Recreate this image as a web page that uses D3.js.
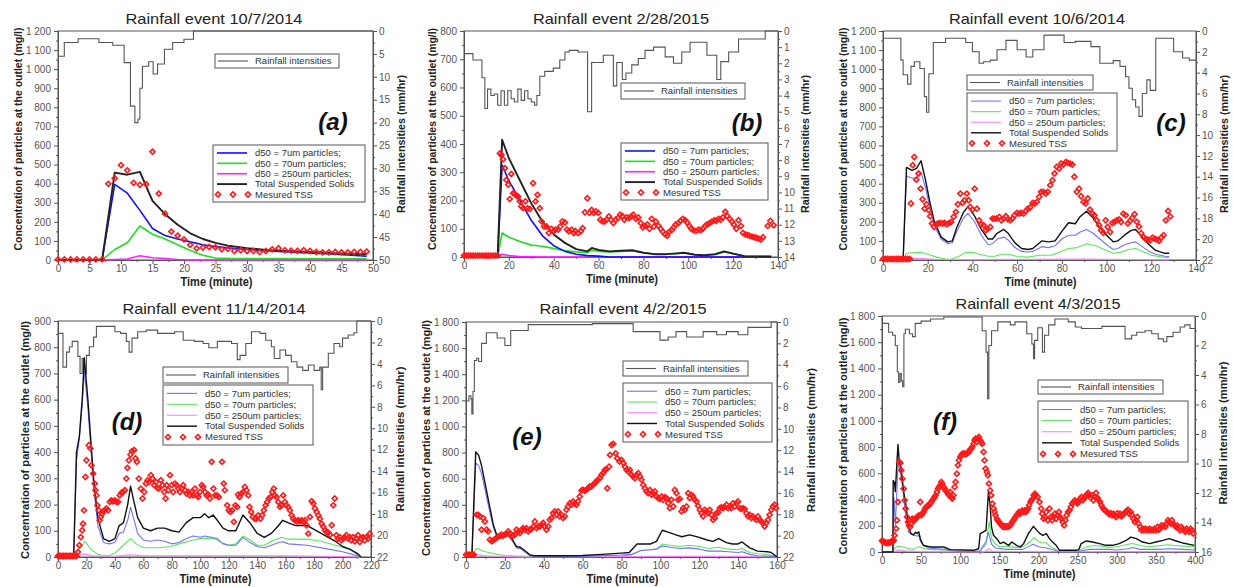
<!DOCTYPE html>
<html>
<head>
<meta charset="utf-8">
<script src="https://cdn.jsdelivr.net/npm/d3@7"></script>
<style>
  body { margin: 0; background: #fff; }
  svg text { font-family: "Liberation Sans", Arial, sans-serif; }
</style>
</head>
<body>
<svg id="chart" width="1233" height="587"></svg>
<script>
// ---------- data ----------
// rainfall intensities (step series) [minute, mm/hr]
const rainA = [[0,5.5],[1,2.5],[3.2,1.7],[6.5,2.5],[8.7,3.1],[10.5,6.9],[11.5,16.4],[12.2,20],[12.7,19.2],[13,12.5],[13.4,7.7],[14.4,6.7],[15.1,9.4],[15.8,7.2],[16.9,4],[18.2,2.5],[20,1.8],[21.5,0],[50,0]];
const rainB = [[0,1.4],[4,1.8],[8,2.9],[9.3,4.8],[10.5,3.6],[12,4.0],[13.5,3.9],[15,4.6],[16.5,3.7],[18,4.6],[19.5,3.7],[21,4.2],[22.5,4.4],[24,3.6],[25.5,4.3],[27,3.7],[28.5,4.2],[30,4.4],[31.5,4.6],[32.5,4.0],[33.8,2.8],[36,2.5],[39.8,2.3],[42.7,1.8],[45,1.3],[46.9,1.2],[50.9,1.3],[55.1,5.0],[56.9,1.95],[62.1,1.5],[66.6,3.4],[68.1,1.95],[70.6,3.0],[72.2,2.6],[74.8,2.1],[77.7,1.7],[80.7,1.2],[84.5,1.0],[89.7,1.6],[93.4,2.0],[97.1,1.3],[100.8,0.7],[108.3,1.5],[112.7,3.0],[114.5,1.9],[118,1.3],[122.4,0.5],[134.3,0],[140,0]];
const rainC = [[0,0.7],[8,2.8],[9,4.2],[11,5.1],[12.5,3.4],[14,2.95],[16.5,3.6],[18.5,6.3],[19.5,7.8],[20.5,4.1],[22.5,1.1],[28,0.7],[37,1.1],[40,2],[43,3.1],[45,2.95],[48,2.8],[51,1.8],[55,0.9],[60,1.8],[64,2.5],[67,1.8],[72,0.4],[81,1.1],[86,1.0],[93,1.5],[97,3.1],[103,2.85],[106,3.4],[108.5,4.4],[110,5.5],[111.5,6.6],[113,7.3],[114.5,8.2],[116,6.0],[118,4.7],[119.5,5.7],[122,0.7],[130,2],[134,2.6],[137,2.8],[140,2.8]];
const rainD = [[0,1.15],[3.5,4.3],[6,2.9],[8,2.4],[10,1.9],[14,3.3],[15.5,4.9],[17,3.5],[18,4.9],[20,3.2],[22,2.4],[25,1.5],[27,0.5],[40,1.0],[44,1.15],[48,1.9],[50,2.9],[52,1.6],[56,1.0],[62,0.85],[70,1.15],[82,1.0],[88,1.8],[96,1.9],[102,2.1],[106,2.5],[112,1.9],[122,2.1],[126,3.6],[128,3.2],[132,2.1],[136,1.0],[142,1.15],[146,1.8],[150,2.4],[152,3.5],[156,2.7],[160,3.2],[164,3.8],[168,4.3],[172,4.6],[176,4.1],[180,4.6],[184,4.3],[185,6.4],[186,4.3],[190,3.0],[194,2.1],[198,2.4],[200,1.6],[204,1.3],[208,1.1],[210,0],[220,0]];
const rainE = [[0,7.4],[1.5,6.9],[2.5,7.2],[3,8.6],[3.6,6.5],[4.3,3.6],[5.5,3.4],[6.5,3.7],[8,2.0],[10.5,1.0],[16,1.5],[20,2.2],[23,0.8],[32,0.25],[65,0.15],[86,0.9],[99.8,1.7],[104,1.4],[108,0.9],[113.5,1.4],[122,0.9],[129,1.2],[134,0.9],[140,1.2],[145,0.5],[157,0],[160,0]];
const rainF = [[0,0.5],[8.5,1.1],[13.6,1.3],[17,2.0],[19.6,3.8],[21.3,4.5],[23,3.9],[24.7,4.4],[26.4,4.8],[28,1.2],[29.8,0.9],[35,1.2],[39,1.4],[42.5,0.5],[50,0.35],[62,0.2],[79,0.07],[128,1.0],[133,2.45],[135,5.6],[136.6,2.0],[140,1.0],[148,0.4],[164,0.6],[170,0.4],[185,1.2],[191.5,1.9],[193.6,2.9],[195,1.65],[199,0.8],[205,2.45],[207.7,1.3],[213,0.6],[221,0.2],[238,0.4],[247,0.75],[255,0.85],[281,0.7],[310.6,1.55],[319,1.3],[325.5,1.1],[336,1.0],[344.7,1.2],[353,1.55],[359.6,1.75],[364,1.4],[372,1.1],[381,0.75],[387,0.6],[393.6,0.85],[400,0.85]];

// modelled concentrations [minute, mg/l]
const blueA = [[0,0],[7,0],[9,396],[11,350],[13,260],[15,165],[17,128],[19,110],[21,95],[23,80],[25,70],[28,60],[32,50],[38,40],[44,30],[49,20]];
const greenA = [[0,0],[7,0],[9,55],[11,90],[13,178],[15,135],[17,110],[19,80],[21,50],[23,25],[25,10],[28,8],[49,6]];
const magA = [[0,0],[7,0],[9,3],[11,5],[13,22],[15,12],[17,8],[19,3],[21,0],[49,0]];
const totalA = [[0,0],[7,0],[9,458],[11,447],[13,462],[15,310],[17,240],[19,185],[21,140],[23,110],[25,90],[27,75],[30,62],[33,53],[36,48],[40,42],[44,35],[49,30]];

const blueB = [[0,0],[15,0],[17,325],[20,270],[25,200],[30,130],[35,75],[40,40],[45,20],[50,10],[55,5],[60,3],[65,0],[137,0]];
const greenB = [[0,0],[15,0],[17,85],[20,70],[25,55],[30,42],[33,40],[37,35],[43,25],[50,18],[55,15],[57,25],[60,20],[65,18],[70,20],[75,22],[80,15],[85,10],[90,10],[95,12],[98,15],[103,8],[107,5],[112,8],[116,18],[120,12],[125,3],[137,2]];
const magB = [[0,0],[15,0],[17,10],[20,5],[25,2],[35,0],[137,0]];
const totalB = [[0,0],[15,0],[17,415],[20,350],[25,270],[30,190],[35,125],[40,80],[45,50],[50,28],[55,20],[57,32],[60,25],[65,20],[70,22],[75,24],[80,15],[85,10],[90,10],[95,13],[98,15],[103,8],[107,6],[112,10],[116,20],[120,12],[125,3],[137,2]];

const blueC = [[0,0],[9,0],[10.5,440],[13,430],[15,430],[17,460],[19,380],[21,270],[23,180],[26,110],[29,85],[31,90],[33,150],[36,220],[38,245],[41,200],[44,130],[47,80],[49,85],[51,110],[54,120],[56,105],[59,65],[62,45],[65,42],[67,45],[71,70],[74,65],[77,75],[80,110],[83,130],[86,130],[88,145],[91,160],[94,140],[97,110],[100,80],[103,55],[105,60],[108,80],[111,90],[113,95],[116,70],[119,45],[122,30],[126,20],[128,18]];
const greenC = [[0,0],[9,0],[10.5,35],[13,38],[17,40],[20,30],[24,15],[28,5],[30,3],[34,20],[37,40],[40,40],[43,30],[47,20],[50,20],[53,30],[56,30],[60,18],[65,15],[70,25],[75,25],[79,40],[83,60],[87,65],[91,85],[95,75],[99,55],[103,35],[106,40],[110,55],[113,60],[117,40],[120,25],[125,15],[128,12]];
const magC = [[0,0],[9,0],[11,10],[18,8],[25,3],[40,2],[90,5],[110,3],[128,0]];
const totalC = [[0,0],[9,0],[10.5,485],[13,470],[15,480],[17,520],[19,420],[21,300],[23,200],[26,120],[29,95],[31,100],[33,170],[36,250],[38,280],[41,230],[44,160],[47,110],[49,110],[51,140],[54,160],[56,140],[59,90],[62,60],[65,55],[67,60],[71,100],[74,95],[77,100],[80,150],[83,195],[86,190],[88,225],[91,255],[94,220],[97,170],[100,130],[103,95],[105,100],[108,130],[111,155],[113,160],[116,120],[119,80],[122,50],[126,35],[128,35]];

const blueD = [[0,0],[11,0],[13,370],[15,450],[17,580],[18.5,710],[21,570],[25,270],[28,120],[32,55],[36,50],[40,55],[43,90],[46,95],[49,140],[51,190],[53,150],[56,90],[60,65],[65,60],[70,65],[75,60],[80,50],[85,55],[90,70],[95,80],[100,75],[103,80],[108,75],[112,70],[116,50],[120,45],[125,45],[130,75],[135,55],[140,40],[145,35],[150,45],[155,55],[158,58],[162,50],[167,48],[175,45],[180,40],[190,30],[200,20],[207,10],[213,0]];
const greenD = [[0,0],[11,0],[15,30],[19,60],[23,30],[28,10],[32,5],[36,5],[40,15],[45,40],[51,70],[55,50],[60,35],[70,35],[80,40],[85,50],[95,65],[100,70],[105,72],[110,70],[115,55],[120,45],[125,50],[130,80],[135,65],[140,45],[145,45],[150,60],[157,75],[162,68],[175,68],[185,60],[195,45],[205,30],[210,10],[213,0]];
const magD = [[0,0],[11,0],[18,12],[25,5],[40,3],[50,8],[60,5],[100,5],[160,5],[200,2],[213,0]];
const totalD = [[0,0],[11,0],[13,400],[15,460],[17,600],[18.5,760],[21,600],[25,300],[28,150],[32,70],[36,60],[40,70],[43,120],[46,130],[49,200],[51,270],[53,220],[56,150],[60,110],[65,100],[70,110],[75,110],[80,100],[85,95],[90,130],[95,150],[100,150],[103,165],[106,150],[109,160],[112,140],[116,110],[120,100],[125,100],[130,160],[135,130],[140,90],[145,75],[150,90],[155,120],[158,140],[162,130],[167,120],[175,120],[180,105],[185,90],[190,75],[195,60],[200,40],[205,30],[210,15],[213,0]];

const blueE = [[0,0],[3,0],[5,720],[6.5,700],[8,640],[10,500],[12,360],[14,230],[16,150],[18,140],[20,170],[21,175],[24,120],[26,70],[28,65],[31,30],[33,10],[40,5],[60,5],[80,15],[85,20],[90,50],[95,55],[98,60],[101,85],[105,75],[110,65],[115,70],[120,60],[125,45],[130,45],[135,40],[140,35],[142,40],[146,20],[150,10],[157,5],[160,0]];
const greenE = [[0,0],[3,0],[5,60],[6,65],[8,50],[10,40],[13,30],[16,20],[20,12],[25,8],[30,5],[60,5],[80,10],[85,15],[90,50],[95,55],[98,60],[101,100],[105,90],[110,80],[115,90],[120,80],[125,65],[130,75],[135,60],[140,55],[142,65],[146,35],[150,25],[155,20],[160,0]];
const magE = [[0,0],[3,0],[5,20],[10,10],[20,3],[30,0],[100,5],[140,5],[160,0]];
const totalE = [[0,0],[3,0],[5,805],[6.5,780],[8,700],[10,550],[12,400],[14,250],[16,160],[18,150],[20,175],[21,180],[24,130],[26,80],[28,75],[31,40],[33,15],[35,10],[50,10],[60,12],[70,20],[80,30],[84,35],[88,100],[95,100],[98,120],[101,205],[104,190],[108,170],[111,155],[115,170],[120,150],[124,130],[127,120],[130,140],[134,110],[137,100],[140,100],[142,115],[146,70],[150,45],[155,40],[157,35],[160,0]];

const blueF = [[0,0],[14,0],[14.5,420],[15.5,400],[17,200],[20,600],[21,680],[23,620],[25,560],[28,400],[31,250],[34,150],[40,130],[46,120],[48,130],[52,60],[58,30],[80,20],[90,10],[100,5],[125,5],[133,80],[136,150],[140,60],[145,30],[160,20],[180,20],[193,60],[200,40],[210,30],[220,15],[227,0],[250,0],[255,10],[265,20],[290,20],[300,15],[315,25],[320,35],[330,20],[350,20],[370,25],[385,20],[400,15]];
const greenF = [[0,0],[14,0],[15,20],[20,45],[25,40],[35,25],[40,20],[47,40],[55,25],[60,20],[80,15],[90,10],[100,5],[125,5],[133,60],[137,230],[140,100],[145,60],[150,40],[160,45],[170,35],[180,40],[190,80],[194,110],[200,80],[205,70],[210,70],[215,40],[222,20],[227,5],[250,5],[255,20],[262,40],[270,50],[280,45],[290,35],[300,40],[312,55],[320,65],[330,50],[340,40],[350,45],[365,55],[375,50],[385,45],[400,40]];
const magF = [[0,0],[14,0],[20,15],[30,10],[50,3],[100,0],[130,0],[137,25],[142,5],[200,3],[300,2],[400,2]];
const totalF = [[0,0],[14,0],[14.3,545],[16,530],[17,460],[20.4,820],[22,700],[24,650],[25,600],[28,450],[31,340],[34,190],[37,140],[40,130],[43,150],[45,140],[47,155],[49,90],[53,50],[62,38],[79,38],[87,18],[117,13],[123.5,25],[125.5,140],[133,165],[136,458],[138,370],[140,190],[142.5,127],[147,100],[151,64],[155,76],[162,51],[166,76],[172,51],[177,38],[181,64],[187,140],[193.5,196],[198,165],[202,140],[205.5,127],[210,140],[214,102],[218,76],[222.5,51],[227,13],[248,13],[251.5,18],[254.5,64],[261,84],[269,76],[278,64],[286,51],[295,51],[303,64],[312,89],[318,114],[325,102],[333,76],[342,64],[350,76],[359,89],[367,102],[376,84],[384,69],[393,58],[399,51]];

// measured TSS [minute, mg/l]
const tssA = [[0,3],[1,3],[2,3],[3,3],[4,3],[5,3],[6,3],[7,3],[8,399],[9,428],[10,497],[11,470],[12,404],[13,394],[14,397],[15,567],[16,348],[17,243],[18,149],[19,128],[20,108],[21,79],[22,61],[23,65],[24,68],[25,66],[26,56],[27,59],[28,47],[29,51],[30,47],[31,47],[32,42],[33,47],[34,56],[35,62],[36,51],[37,49],[38,48],[39,51],[40,47],[41,42],[42,40],[43,40],[44,42],[45,40],[46,40],[47,42],[48,42],[49,44]];
const tssB = [[0,5],[1,5],[2,5],[3,5],[4,5],[5,5],[6,5],[7,5],[8,5],[9,5],[10,5],[11,5],[12,5],[13,5],[14,5],[15,5],[16,367],[16.7,361],[17.4,346],[18.2,314],[18.9,273],[19.7,256],[20.4,205],[21.1,294],[21.9,226],[22.6,224],[23.4,217],[24.1,214],[24.9,197],[25.6,179],[26.4,173],[27.4,197],[28.3,173],[29.3,170],[30.8,261],[31.9,197],[32.8,220],[33.8,173],[34.6,126],[35.7,108],[36.8,108],[37.8,85],[39,99],[39.9,91],[40.8,97],[42,97],[42.9,108],[43.8,126],[45,122],[45.9,97],[46.8,91],[48,97],[48.9,85],[49.7,91],[50.9,85],[52.1,91],[52.9,102],[53.9,158],[55,208],[55.9,156],[56.9,167],[57.8,156],[58.8,161],[59.9,156],[60.8,132],[61.7,126],[62.6,126],[63.6,132],[64.6,144],[65.5,132],[66.6,120],[67.6,132],[68.7,138],[69.6,150],[70.6,145],[71.5,132],[72.5,140],[73.6,138],[74.5,144],[75.5,150],[76.6,135],[77.7,140],[78.8,120],[79.7,105],[80.7,110],[81.8,115],[82.7,100],[83.7,135],[84.7,108],[85.6,125],[86.7,110],[87.7,100],[88.6,90],[89.7,80],[90.6,75],[91.6,90],[92.6,95],[93.5,105],[94.4,115],[95.6,120],[96.5,128],[97.6,135],[98.6,130],[99.5,122],[100.5,110],[101.3,100],[102.3,95],[103.4,92],[104.6,97],[105.6,95],[106.5,100],[107.5,110],[108.4,115],[109.5,120],[110.5,125],[111.6,130],[112.5,128],[113.5,135],[114.4,132],[115.4,140],[116.5,160],[117.4,145],[118.4,135],[119.5,125],[120.3,115],[121.4,100],[122.4,130],[123.5,110],[124.4,85],[125.4,80],[126.5,78],[127.3,75],[128.4,72],[129.4,70],[130.3,68],[131.4,65],[132.4,62],[133.3,70],[135.4,110],[136.6,128],[138.1,112]];
const tssC = [[0,5],[1,5],[2,5],[3,5],[4,5],[5,5],[6,5],[7,5],[8,5],[9,5],[10,5],[11,5],[12,5],[12.5,296],[13.3,497],[14,540],[14.9,421],[15.9,453],[16.8,374],[17.7,318],[18.6,269],[19.4,292],[20.4,261],[21.1,229],[21.9,191],[22.9,173],[23.8,187],[24.6,191],[25.6,194],[26.7,191],[27.6,194],[28.6,187],[29.6,194],[30.5,199],[31.6,226],[32.6,252],[33.5,292],[34.6,348],[35.6,299],[36.5,313],[37.5,348],[38.3,313],[39,278],[40.1,264],[41,374],[42,269],[43,208],[43.9,187],[45,182],[46,156],[46.9,164],[48,173],[49,217],[49.9,217],[50.9,217],[52,226],[52.9,208],[53.9,217],[55,229],[55.9,213],[56.9,208],[57.9,217],[58.8,234],[59.9,247],[60.9,243],[61.8,247],[62.9,243],[63.9,257],[64.8,269],[65.8,275],[66.9,299],[67.8,296],[68.8,304],[69.9,331],[70.7,357],[71.8,357],[72.8,348],[73.7,357],[74.8,392],[75.8,418],[76.7,453],[77.7,488],[78.8,479],[79.7,506],[80.7,500],[81.8,514],[82.7,509],[83.7,505],[84.7,500],[85.6,436],[86.7,357],[87.7,374],[88.6,334],[89.7,304],[90.7,296],[91.6,322],[92.6,264],[93.7,243],[94.6,234],[95.6,208],[96.7,182],[97.6,156],[98.6,142],[99.6,208],[100.5,173],[101.6,147],[102.6,194],[103.5,199],[104.6,208],[105.6,212],[106.5,199],[107.5,243],[108.6,234],[109.5,191],[110.5,205],[111.5,220],[112.5,240],[113.5,200],[114.5,175],[115.5,140],[116.5,121],[117.5,110],[118.5,107],[119.5,103],[120.5,117],[121.5,112],[122.5,107],[123.5,100],[124.5,118],[125.5,130],[126.5,208],[127.5,257],[128.5,228]];
const tssD = [[0,4],[1,4],[2,4],[3,4],[4,4],[5,4],[6,4],[7,4],[8,4],[9,4],[10,4],[11,4],[12,4],[13,4],[14,19],[15,45],[16,76],[17,102],[17.6,127],[18.3,178],[19.3,305],[20,369],[21.6,426],[22.8,414],[23.5,350],[24.7,318],[25.8,280],[26.3,255],[27,235],[27.7,197],[28.6,178],[29.3,140],[30,153],[31,165],[31.7,174],[32.9,178],[34,185],[35.2,178],[36.4,210],[37.6,216],[38.7,212],[39.9,216],[41,210],[42.3,210],[43.4,235],[44.6,245],[45.8,248],[47,255],[48,299],[48.8,340],[49.8,369],[51,391],[52,404],[53.5,408],[54.5,376],[55.4,363],[56.8,299],[58.2,261],[59.4,223],[60.6,248],[61.8,280],[63,293],[64,286],[65.3,312],[66.4,299],[67.6,274],[68.8,286],[70,263],[71,261],[72.3,293],[73.5,274],[74.7,248],[75.6,223],[76.3,274],[77.5,255],[78.7,312],[79.8,274],[81,248],[82.2,280],[83.4,274],[84.5,261],[85.7,248],[86.9,261],[88,274],[89.2,255],[90.4,242],[91.6,248],[92.7,235],[93.9,248],[95,235],[96.3,261],[97.4,235],[98.6,229],[99.8,248],[101,274],[102,267],[103.3,248],[104.5,235],[105.7,238],[106.8,223],[108,363],[109.2,261],[110.4,235],[111.8,235],[113,229],[115.3,363],[116.5,280],[117.2,255],[118.9,197],[120,178],[121.2,172],[122.4,178],[123.6,134],[124.7,197],[125.9,191],[126.6,238],[127.6,229],[129,242],[130.1,248],[131.3,267],[132.5,255],[133.7,235],[134.6,191],[135.8,172],[136.9,153],[138.4,146],[139.5,146],[140.7,159],[142.3,146],[143.5,159],[144.7,178],[145.9,197],[147,210],[148.2,223],[149.4,229],[150.6,248],[151.7,261],[152.4,235],[153.6,229],[154.8,210],[156,191],[157.1,197],[158.3,235],[159.5,210],[160.4,197],[161.8,191],[163,178],[164.2,159],[165.4,146],[166.5,140],[167.7,136],[168.9,140],[170,136],[171.2,140],[172.4,134],[173.6,140],[174.7,121],[175.9,89],[177.1,153],[178.3,213],[179.4,204],[180.6,185],[181.8,172],[183,159],[184.1,146],[185.3,127],[186.5,115],[187.7,102],[188.8,95],[190,93],[191.2,85],[192.4,121],[193.5,197],[194.5,223],[195.6,83],[196.8,70],[198,76],[199.2,64],[200.3,70],[201.5,76],[202.7,83],[203.9,70],[205,76],[206.2,64],[207.4,76],[208.6,60],[209.7,70],[210.9,83],[212.1,57],[213.3,70],[214.4,76],[215.6,64],[216.8,76],[218,70],[219.1,89]];
const tssE = [[0,18],[1,18],[2,18],[3,18],[4,18],[5.5,323],[6.3,323],[7.2,311],[8,209],[8.9,298],[9.7,272],[10.6,209],[11.4,196],[12.3,132],[13.2,120],[14,127],[14.9,137],[15.7,145],[16.6,158],[17.5,163],[18.3,171],[19.1,163],[20,171],[20.9,178],[21.7,196],[22.6,183],[23.4,158],[24.3,163],[25.2,171],[26,209],[26.9,196],[27.7,183],[28.6,209],[29.4,221],[30.3,209],[31.1,221],[32,196],[32.9,209],[33.7,214],[34.6,234],[35.4,272],[36.3,221],[37.1,234],[38,234],[38.8,247],[39.7,260],[40.5,234],[41.4,209],[42.3,234],[43.1,285],[44,298],[44.8,336],[45.7,349],[46.5,323],[47.4,349],[48.2,311],[49.1,323],[49.9,298],[50.8,311],[51.7,361],[52.5,387],[53.4,412],[54.2,400],[55.1,425],[55.9,412],[56.8,400],[57.6,425],[58.5,463],[59.4,509],[60.2,514],[61.1,507],[61.9,514],[62.8,527],[63.6,540],[64.5,540],[65.3,552],[66.2,565],[67,578],[67.9,591],[68.8,603],[69.7,629],[70.5,642],[71.4,667],[72.2,672],[72.7,527],[73.6,692],[74.1,782],[74.9,858],[75.8,866],[77,794],[77.8,756],[79,731],[80,743],[81,718],[81.8,692],[82.6,667],[83.5,654],[84.3,667],[85.2,629],[86,616],[86.9,603],[87.8,629],[88.6,642],[89.5,616],[90.3,591],[91.2,552],[92,527],[92.9,502],[93.7,489],[94.6,514],[95.5,476],[96.3,489],[97.2,502],[98,463],[98.9,451],[99.7,443],[100.6,463],[101.4,438],[102.3,458],[103.2,451],[104,412],[104.9,374],[105.7,438],[106.6,387],[107.4,514],[108.3,489],[109.1,438],[110,445],[110.9,349],[111.7,374],[112.6,361],[113.4,387],[114.3,489],[115.1,451],[116,476],[116.8,463],[117.7,438],[118.6,425],[119.4,392],[120.3,361],[121.1,336],[122,311],[122.8,361],[123.7,349],[124.5,336],[125.4,361],[126.3,323],[127.1,285],[128,298],[128.8,336],[129.7,341],[130.5,374],[131.4,382],[132.2,374],[133.1,382],[134,400],[134.8,374],[135.7,387],[136.5,374],[137.4,412],[138.2,387],[139.1,412],[139.9,425],[140.8,374],[141.7,367],[142.5,374],[143.4,367],[144.2,336],[145.1,311],[145.9,323],[146.8,298],[147.6,311],[148.5,298],[149.4,285],[150.2,311],[151.1,285],[151.9,272],[152.8,260],[153.6,234],[154.5,260],[155.4,285],[156.2,323],[157.1,361],[157.9,387],[158.8,400],[159.6,374]];
const tssF = [[0,85],[1,80],[2,78],[3,75],[4,72],[5,70],[6,70],[7,68],[8,70],[9,72],[10,70],[11,75],[12,80],[13,85],[14,80],[15,89],[16,127],[18,178],[19,242],[20.4,381],[22,686],[23.4,679],[24.7,623],[26,559],[27.6,483],[29,394],[30.2,331],[32,267],[33.2,229],[34.4,203],[36,191],[37.4,216],[38.7,254],[40.4,247],[41.7,242],[43,254],[44.6,267],[46,272],[47.3,280],[48.9,381],[50.2,280],[51.5,292],[53.2,305],[54.5,323],[55.7,338],[57.4,348],[58.7,356],[60,356],[61.7,369],[63,381],[64.3,394],[66,407],[67.2,420],[68.5,432],[70.2,458],[71.5,483],[72.8,496],[74.5,509],[75.7,534],[77,521],[78.7,496],[80,483],[81.3,470],[83,458],[84.3,445],[85.5,432],[87.2,458],[88.5,420],[89.8,407],[91.4,432],[92.8,496],[94,534],[95.7,597],[97,661],[98.3,699],[100,725],[101.2,737],[102.6,750],[104.2,750],[105.6,750],[106.8,745],[108.5,750],[110,763],[111.2,763],[112.7,781],[114,788],[115.3,801],[117,826],[118.3,852],[119.6,864],[121.2,839],[122.6,864],[123.8,877],[125.5,852],[126.8,839],[128,826],[129.8,763],[131,699],[132.3,636],[134,610],[135.3,585],[136.6,521],[138.3,470],[139.6,432],[141,369],[142.6,331],[143.8,305],[145,280],[146.8,254],[148,242],[149.4,229],[151,216],[152.3,211],[153.6,196],[155.3,191],[156.6,196],[157.8,191],[159.5,196],[160.8,191],[162,196],[163.8,203],[165,211],[166.3,229],[168,242],[169.3,254],[170.6,267],[172.3,280],[173.6,292],[175,305],[176.6,292],[178,305],[179.4,318],[181,305],[182.4,318],[183.7,305],[185.4,318],[186.7,331],[188,356],[189.8,381],[191,394],[192.4,407],[194,432],[195.4,445],[196.7,432],[199,420],[201.3,381],[203.4,331],[204.7,292],[206.4,254],[208,267],[209.8,305],[212,242],[214,331],[215.7,267],[217.4,242],[219,267],[220.8,292],[222.5,254],[224.2,280],[226,305],[227.6,267],[229.3,254],[231,229],[232.7,203],[234.4,242],[236,280],[237.8,305],[239.6,318],[241.3,343],[243,369],[244.7,381],[246.4,394],[248,381],[249.8,369],[251.5,381],[253.2,407],[254.9,420],[256.6,394],[258.3,407],[260,425],[261.7,440],[263.4,450],[265,432],[266.8,414],[268.5,432],[270.2,394],[272,420],[273.6,450],[275.3,414],[277,394],[278.7,381],[280.4,356],[282,338],[283.8,323],[285.5,318],[287.2,305],[289,297],[290.6,287],[292.3,297],[294,280],[295.7,292],[297.4,280],[299,267],[300.8,297],[302.5,280],[304.2,292],[306,272],[307.6,280],[309.3,292],[311,305],[312.7,313],[314.4,323],[316,292],[317.9,305],[319.6,280],[321.3,254],[323,229],[324.7,242],[326.4,267],[328,216],[329.8,191],[331.5,165],[333.2,178],[334.9,165],[336.6,178],[338.3,170],[340,165],[341.7,178],[343.4,165],[345,170],[346.8,165],[348.5,178],[350.2,165],[352,191],[353.6,170],[355.3,178],[357,203],[358.7,196],[360.4,203],[362,191],[363.8,216],[365.5,242],[367.2,229],[369,216],[370.6,242],[372.3,216],[374,203],[375.7,191],[377.4,203],[379,178],[380.8,165],[382.5,191],[384.2,178],[386,165],[387.6,153],[389.3,178],[391,165],[392.7,153],[394.5,178],[396,165],[398,140]];

const legendLabels = ["d50 = 7um particles;", "d50 = 70um particles;", "d50 = 250um particles;", "Total Suspended Solids", "Mesured TSS"];

// ---------- panel layout ----------
const panels = [
  {id:"a", left:58, right:373, top:31, bottom:260, xMax:50, xStep:5, yMax:1200, yStep:100, rMax:50, rStep:5,
   title:"Rainfall event 10/7/2014", titleX:214, titleY:24, titleW:177, letter:"(a)", letterX:333, letterY:130,
   rainLeg:[215,54,124,14], modelLeg:[213,145,152,57], leftX:18, leftCY:139, leftLen:223, rightX:401, rightCY:144, rightLen:138,
   strong:true, rain:rainA, blue:blueA, green:greenA, mag:magA, total:totalA, tss:tssA},
  {id:"b", left:464, right:778, top:31, bottom:257, xMax:140, xStep:20, yMax:800, yStep:100, rMax:14, rStep:1,
   title:"Rainfall event 2/28/2015", titleX:621, titleY:24, titleW:176, letter:"(b)", letterX:747, letterY:131,
   rainLeg:[621,83,124,16], modelLeg:[621,143,147,57], leftX:432, leftCY:139, leftLen:222, rightX:805, rightCY:144, rightLen:138,
   strong:true, rain:rainB, blue:blueB, green:greenB, mag:magB, total:totalB, tss:tssB},
  {id:"c", left:883, right:1196, top:31, bottom:260, xMax:140, xStep:20, yMax:1200, yStep:100, rMax:22, rStep:2,
   title:"Rainfall event 10/6/2014", titleX:1037, titleY:24, titleW:176, letter:"(c)", letterX:1171, letterY:131,
   rainLeg:[967,75,126,15], modelLeg:[967,93,150,58], leftX:843, leftCY:139, leftLen:223, rightX:1224, rightCY:144, rightLen:138,
   strong:false, rain:rainC, blue:blueC, green:greenC, mag:magC, total:totalC, tss:tssC},
  {id:"d", left:58, right:371, top:321, bottom:557, xMax:220, xStep:20, yMax:900, yStep:100, rMax:22, rStep:2,
   title:"Rainfall event 11/14/2014", titleX:214, titleY:314, titleW:183, letter:"(d)", letterX:127, letterY:430,
   rainLeg:[163,367,125,16], modelLeg:[163,385,150,60], leftX:25, leftCY:440, leftLen:238, rightX:400, rightCY:439, rightLen:145,
   strong:false, rain:rainD, blue:blueD, green:greenD, mag:magD, total:totalD, tss:tssD},
  {id:"e", left:466, right:777, top:322, bottom:557, xMax:160, xStep:20, yMax:1800, yStep:200, rMax:22, rStep:2,
   title:"Rainfall event 4/2/2015", titleX:623, titleY:314, titleW:167, letter:"(e)", letterX:527, letterY:445,
   rainLeg:[623,361,125,15], modelLeg:[623,383,149,59], leftX:426, leftCY:438, leftLen:236, rightX:811, rightCY:440, rightLen:144,
   strong:false, rain:rainE, blue:blueE, green:greenE, mag:magE, total:totalE, tss:tssE},
  {id:"f", left:882, right:1195, top:316, bottom:552, xMax:400, xStep:50, yMax:1800, yStep:200, rMax:16, rStep:2,
   title:"Rainfall event 4/3/2015", titleX:1038, titleY:309, titleW:165, letter:"(f)", letterX:945, letterY:430,
   rainLeg:[1038,380,125,14], modelLeg:[1038,401,150,61], leftX:843, leftCY:436, leftLen:237, rightX:1223, rightCY:433, rightLen:143,
   strong:false, rain:rainF, blue:blueF, green:greenF, mag:magF, total:totalF, tss:tssF}
];

const svg = d3.select("#chart");
const axisColor = "#555";
const textColor = "#333";
const redMark = "#ff1a1a";

// thousands with a space, as in the original ("1 200")
const fmtK = v => d3.format(",")(v).replace(/,/g, " ");

function styleAxis(g) {
  g.attr("font-family", "Liberation Sans, Arial, sans-serif").attr("font-size", 10);
  g.select(".domain").attr("stroke", axisColor);
  g.selectAll(".tick line").attr("stroke", axisColor);
  g.selectAll(".tick text").attr("fill", "#555");
}

function diamond(sel, cx, cy) {
  sel.append("path")
    .attr("d", d3.symbol(d3.symbolSquare, 13)())
    .attr("transform", `translate(${cx},${cy}) rotate(45)`)
    .attr("fill", "none")
    .attr("stroke", redMark)
    .attr("stroke-width", 1.6);
}

function drawPanel(p) {
  const g = svg.append("g").attr("class", "panel-" + p.id);

  const x = d3.scaleLinear().domain([0, p.xMax]).range([p.left, p.right]);
  const y = d3.scaleLinear().domain([0, p.yMax]).range([p.bottom, p.top]);
  const yr = d3.scaleLinear().domain([0, p.rMax]).range([p.top, p.bottom]);

  const clipId = "clip-" + p.id;
  svg.append("clipPath").attr("id", clipId)
    .append("rect")
    .attr("x", p.left).attr("y", p.top - 1)
    .attr("width", p.right - p.left).attr("height", p.bottom - p.top + 2);

  const major = (max, step) => d3.range(0, max + step / 1000, step);
  const minor = (max, step) => d3.range(step / 2, max, step);

  // minor ticks
  g.append("g").attr("transform", `translate(0,${p.bottom})`)
    .call(d3.axisBottom(x).tickValues(minor(p.xMax, p.xStep)).tickSize(2).tickFormat(""))
    .call(styleAxis);
  g.append("g").attr("transform", `translate(${p.left},0)`)
    .call(d3.axisLeft(y).tickValues(minor(p.yMax, p.yStep)).tickSize(2).tickFormat(""))
    .call(styleAxis);
  g.append("g").attr("transform", `translate(${p.right},0)`)
    .call(d3.axisRight(yr).tickValues(minor(p.rMax, p.rStep)).tickSize(2).tickFormat(""))
    .call(styleAxis);

  // major ticks + labels
  g.append("g").attr("transform", `translate(0,${p.bottom})`)
    .call(d3.axisBottom(x).tickValues(major(p.xMax, p.xStep)).tickSize(4).tickPadding(1).tickFormat(d3.format("d")))
    .call(styleAxis);
  g.append("g").attr("transform", `translate(${p.left},0)`)
    .call(d3.axisLeft(y).tickValues(major(p.yMax, p.yStep)).tickSize(4).tickPadding(3).tickFormat(fmtK))
    .call(styleAxis);
  g.append("g").attr("transform", `translate(${p.right},0)`)
    .call(d3.axisRight(yr).tickValues(major(p.rMax, p.rStep)).tickSize(4).tickPadding(2).tickFormat(d3.format("d")))
    .call(styleAxis);

  // frame
  g.append("rect")
    .attr("x", p.left).attr("y", p.top)
    .attr("width", p.right - p.left).attr("height", p.bottom - p.top)
    .attr("fill", "none").attr("stroke", axisColor).attr("stroke-width", 1);

  const plot = g.append("g").attr("clip-path", `url(#${clipId})`);

  // rainfall hyetograph (step line on the reversed right axis)
  const rainLine = d3.line().x(d => x(d[0])).y(d => yr(d[1])).curve(d3.curveStepAfter);
  plot.append("path").datum(p.rain)
    .attr("d", rainLine).attr("fill", "none")
    .attr("stroke", "#555").attr("stroke-width", 1.1);

  const colors = p.strong
    ? {blue: "#1010ff", green: "#1ee01e", mag: "#ff20ff", total: "#222"}
    : {blue: "#7272ff", green: "#5ce65c", mag: "#ff80ff", total: "#111"};
  const lw = p.strong ? 1.6 : 1.1;

  const conc = d3.line().x(d => x(d[0])).y(d => y(d[1]));
  [["green", p.green], ["mag", p.mag], ["blue", p.blue], ["total", p.total]].forEach(function(s) {
    plot.append("path").datum(s[1])
      .attr("d", conc).attr("fill", "none")
      .attr("stroke", colors[s[0]])
      .attr("stroke-width", s[0] === "total" ? lw + 0.3 : lw)
      .attr("stroke-linejoin", "round");
  });

  // measured TSS markers
  const marks = g.append("g");
  p.tss.forEach(d => diamond(marks, x(d[0]), y(d[1])));

  // title
  const title = g.append("text")
    .attr("x", p.titleX).attr("y", p.titleY)
    .attr("text-anchor", "middle")
    .attr("font-size", 15).attr("fill", "#222")
    .attr("textLength", p.titleW).attr("lengthAdjust", "spacingAndGlyphs")
    .text(p.title);
  if (p.id === "f") {
    svg.append("clipPath").attr("id", "clip-title-f")
      .append("rect").attr("x", 900).attr("y", 297).attr("width", 300).attr("height", 20);
    title.attr("clip-path", "url(#clip-title-f)");
  }

  // axis titles
  g.append("text")
    .attr("transform", `translate(${p.leftX},${p.leftCY}) rotate(-90)`)
    .attr("text-anchor", "middle").attr("dy", "0.35em")
    .attr("font-size", 11).attr("font-weight", "bold").attr("fill", "#222")
    .attr("textLength", p.leftLen).attr("lengthAdjust", "spacingAndGlyphs")
    .text("Concentration of particles at the outlet (mg/l)");
  g.append("text")
    .attr("transform", `translate(${p.rightX},${p.rightCY}) rotate(-90)`)
    .attr("text-anchor", "middle").attr("dy", "0.35em")
    .attr("font-size", 11).attr("font-weight", "bold").attr("fill", "#222")
    .attr("textLength", p.rightLen).attr("lengthAdjust", "spacingAndGlyphs")
    .text("Rainfall intensities (mm/hr)");
  g.append("text")
    .attr("x", (p.left + p.right) / 2 + 1).attr("y", p.bottom + 26)
    .attr("text-anchor", "middle")
    .attr("font-size", 12).attr("font-weight", "bold").attr("fill", "#222")
    .attr("textLength", 72).attr("lengthAdjust", "spacingAndGlyphs")
    .text("Time (minute)");

  // panel letter
  g.append("text")
    .attr("x", p.letterX).attr("y", p.letterY)
    .attr("text-anchor", "middle")
    .attr("font-family", "Open Sans, sans-serif")
    .attr("font-style", "italic").attr("font-weight", 600)
    .attr("font-size", 24).attr("fill", "#111")
    .text(p.letter);

  // rainfall legend
  const rl = p.rainLeg;
  g.append("rect").attr("x", rl[0]).attr("y", rl[1]).attr("width", rl[2]).attr("height", rl[3])
    .attr("fill", "#fff").attr("stroke", axisColor);
  g.append("line")
    .attr("x1", rl[0] + 3).attr("x2", rl[0] + 33)
    .attr("y1", rl[1] + rl[3] / 2).attr("y2", rl[1] + rl[3] / 2)
    .attr("stroke", "#555").attr("stroke-width", 1.1);
  g.append("text")
    .attr("x", rl[0] + 40).attr("y", rl[1] + rl[3] / 2).attr("dy", "0.35em")
    .attr("font-size", 9.5).attr("fill", textColor)
    .text("Rainfall intensities");

  // model legend
  const ml = p.modelLeg;
  g.append("rect").attr("x", ml[0]).attr("y", ml[1]).attr("width", ml[2]).attr("height", ml[3])
    .attr("fill", "#fff").attr("stroke", axisColor);
  const keys = ["blue", "green", "mag", "total"];
  legendLabels.forEach(function(label, i) {
    const ry = ml[1] + ml[3] * (0.14 + 0.182 * i);
    if (i < 4) {
      g.append("line")
        .attr("x1", ml[0] + 4).attr("x2", ml[0] + 34)
        .attr("y1", ry).attr("y2", ry)
        .attr("stroke", colors[keys[i]])
        .attr("stroke-width", keys[i] === "total" ? lw + 0.3 : lw);
    } else {
      [5, 20, 35].forEach(dx => diamond(g, ml[0] + dx, ry));
    }
    g.append("text")
      .attr("x", ml[0] + 42).attr("y", ry).attr("dy", "0.35em")
      .attr("font-size", 9.5).attr("fill", textColor)
      .text(label);
  });
}

panels.forEach(drawPanel);
</script>
</body>
</html>
